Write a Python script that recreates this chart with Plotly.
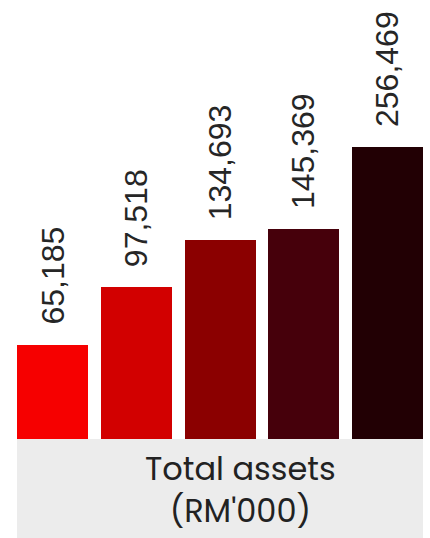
import math
import plotly.graph_objects as go

years = ["2019", "2020", "2021", "2022", "2023"]
values = [65185, 97518, 134693, 145369, 256469]
labels = ["65,185", "97,518", "134,693", "145,369", "256,469"]
colors = ["#f60000", "#d20000", "#8b0000", "#46000b", "#220004"]
title_lines = ["Total assets", "(RM'000)"]

W, H = 430, 538
plot_left, plot_right = 17, 423
plot_top, plot_bottom = 0, 439
pitch = 83.75
bar_w = 71
half = (bar_w / 2) / pitch

fig = go.Figure()
xs = list(range(len(values)))
fig.add_trace(go.Bar(
    x=xs, y=values, marker=dict(color=colors, line=dict(width=0)),
    width=bar_w / pitch, hoverinfo="skip", showlegend=False,
))

for i, (v, t) in enumerate(zip(values, labels)):
    fig.add_annotation(
        x=i, y=math.log10(v), xref="x", yref="y", text=t, showarrow=False,
        textangle=-90, xanchor="center", yanchor="bottom", yshift=18,
        font=dict(family="Liberation Sans, Arial", size=32, color="#262626"),
    )

ph = plot_bottom - plot_top
band = (H - plot_bottom) / ph
fig.add_shape(type="rect", xref="paper", yref="paper", x0=0, x1=1, y0=-band, y1=0,
              fillcolor="#ececec", line=dict(width=0), layer="below")

tx = (240 - plot_left) / (plot_right - plot_left)
fig.add_annotation(
    x=tx, y=(plot_bottom - 489) / ph, xref="paper", yref="paper",
    text="<br>".join(title_lines), align="center",
    showarrow=False, xanchor="center", yanchor="middle",
    font=dict(family="Poppins, Open Sans", size=32, color="#222222"),
)

lo = 4.531
hi = lo + ph / 332.0
fig.update_layout(
    width=W, height=H, margin=dict(l=plot_left, r=W - plot_right, t=plot_top, b=H - plot_bottom),
    paper_bgcolor="white", plot_bgcolor="white",
    xaxis=dict(range=[-half, len(values) - 1 + half], visible=False, fixedrange=True),
    yaxis=dict(type="log", range=[lo, hi], visible=False, fixedrange=True),
    bargap=0,
)
fig.write_html("out.html", config={"displayModeBar": False})
